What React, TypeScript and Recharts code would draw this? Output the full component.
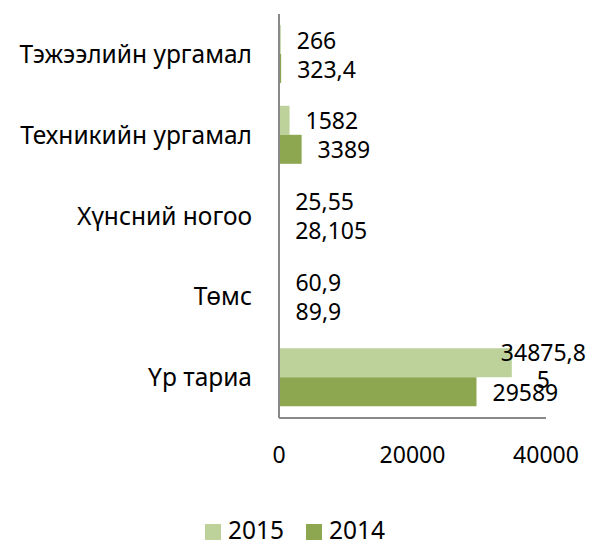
import { BarChart, Bar, XAxis, YAxis, Legend, LabelList } from 'recharts';

const categories = ['Тэжээлийн ургамал', 'Техникийн ургамал', 'Хүнсний ногоо', 'Төмс', 'Үр тариа'];
const values2015 = [266, 1582, 25.55, 60.9, 34875.85];
const values2014 = [323.4, 3389, 28.105, 89.9, 29589];
const xTicks = [0, 20000, 40000];
const seriesOrder = ['2015', '2014'];

const data = categories.map((name, i) => ({ name, y2015: values2015[i], y2014: values2014[i] }));

const FONT = "'Noto Sans', sans-serif";
const FS = 23;
const CHART_W = 592;

// rough glyph width so long labels wrap like the original
const textWidth = (s: string) => s.split('').reduce((w, c) => w + (c === ',' ? 6 : 13.2), 0);

const ValueLabel = (props: any) => {
  const { x, y, width, height, value } = props;
  const text = String(value).replace('.', ',');
  const left = x + width + 16;
  const cy = y + height / 2;
  const common = { fontFamily: FONT, fontSize: FS, fill: '#000' };
  if (left + textWidth(text) <= CHART_W - 4) {
    return (
      <text x={left} y={cy} dominantBaseline="central" {...common}>
        {text}
      </text>
    );
  }
  const lines: string[] = [];
  for (let i = 0; i < text.length; i += 7) lines.push(text.slice(i, i + 7));
  const maxW = Math.max(...lines.map(textWidth));
  const cx = CHART_W - 6 - maxW / 2;
  const lh = 27;
  const top = cy - ((lines.length - 1) * lh) / 2 + 3;
  return (
    <text textAnchor="middle" {...common}>
      {lines.map((l, i) => (
        <tspan key={i} x={cx} y={top + i * lh} dominantBaseline="central">
          {l}
        </tspan>
      ))}
    </text>
  );
};

export default function App() {
  return (
    <div style={{ position: 'absolute', left: 0, top: 0 }}>
      <BarChart
        width={592}
        height={540}
        data={data}
        layout="vertical"
        margin={{ top: 14, right: 46, bottom: 0, left: 0 }}
        barCategoryGap={11}
        barGap={0}
      >
        <XAxis
          type="number"
          domain={[0, 40000]}
          ticks={xTicks}
          tickLine={false}
          tickSize={0}
          tickMargin={29}
          height={102}
          axisLine={{ stroke: '#898989', strokeWidth: 2 }}
          tick={{ fill: '#000', fontSize: FS, fontFamily: FONT }}
        />
        <YAxis
          type="category"
          dataKey="name"
          width={279}
          tickLine={false}
          tickSize={0}
          tickMargin={27}
          axisLine={{ stroke: '#898989', strokeWidth: 2 }}
          tick={{ fill: '#000', fontSize: 24.5, fontFamily: FONT }}
        />
        <Legend
          verticalAlign="bottom"
          height={20}
          iconType="square"
          iconSize={16}
          itemSorter={(item: any) => seriesOrder.indexOf(String(item.value))}
          wrapperStyle={{ top: 520, left: 10, width: 592, fontFamily: FONT, fontSize: 24.5, lineHeight: '20px' }}
          formatter={(v) => <span style={{ color: '#000', marginLeft: 3, marginRight: 12 }}>{v}</span>}
        />
        <Bar dataKey="y2015" name="2015" fill="#BDD19B" isAnimationActive={false}>
          <LabelList dataKey="y2015" content={ValueLabel} />
        </Bar>
        <Bar dataKey="y2014" name="2014" fill="#8DA750" isAnimationActive={false}>
          <LabelList dataKey="y2014" content={ValueLabel} />
        </Bar>
      </BarChart>
    </div>
  );
}
